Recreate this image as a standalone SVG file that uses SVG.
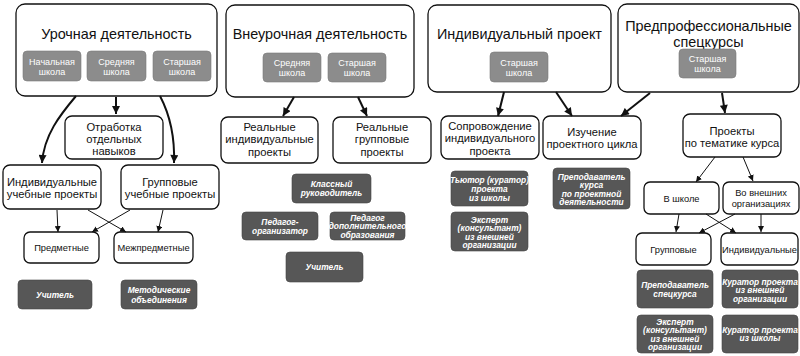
<svg xmlns="http://www.w3.org/2000/svg" width="800" height="356" viewBox="0 0 800 356">
<defs>
<style>
text{font-family:"Liberation Sans",Arial,sans-serif;text-anchor:middle;dominant-baseline:central;fill:#111}
.main{fill:#fff;stroke:#111;stroke-width:1.3}
.sub{fill:#8c8c8c;stroke:#7a7a7a;stroke-width:0.6}
.dark{fill:#575757;stroke:#444;stroke-width:0.6}
.t{font-size:14.4px}
.m{font-size:11.2px}
.s{font-size:9.3px}
.st{font-size:9px;fill:#fff}
.dt{font-size:8.4px;fill:#fff;font-weight:bold;font-style:italic}
.big{fill:none;stroke:#111;stroke-width:2}
.sm{fill:none;stroke:#111;stroke-width:1}
</style>
<marker id="ab" viewBox="0 0 10 10" refX="10" refY="5" markerWidth="9" markerHeight="8" markerUnits="userSpaceOnUse" orient="auto"><path d="M0,0L10,5L0,10z" fill="#111"/></marker>
<marker id="as" viewBox="0 0 10 10" refX="10" refY="5" markerWidth="6" markerHeight="6" markerUnits="userSpaceOnUse" orient="auto"><path d="M0,0L10,5L0,10z" fill="#111"/></marker>
</defs>

<g id="urochnaya">
<rect class="main" x="16" y="4" width="201" height="92" rx="9"/>
<text class="t" x="116.5" y="34">Урочная деятельность</text>
<rect class="sub" x="23" y="51" width="58" height="30" rx="4"/>
<text class="st" x="52" y="61.5">Начальная</text><text class="st" x="52" y="72">школа</text>
<rect class="sub" x="87" y="51" width="59" height="30" rx="4"/>
<text class="st" x="116.5" y="61.5">Средняя</text><text class="st" x="116.5" y="72">школа</text>
<rect class="sub" x="153" y="51" width="58" height="30" rx="4"/>
<text class="st" x="182" y="61.5">Старшая</text><text class="st" x="182" y="72">школа</text>
</g>

<g id="vneurochnaya">
<rect class="main" x="226" y="5" width="188" height="92" rx="9"/>
<text class="t" x="320" y="34">Внеурочная деятельность</text>
<rect class="sub" x="263" y="53" width="58" height="29" rx="4"/>
<text class="st" x="292" y="63">Средняя</text><text class="st" x="292" y="73">школа</text>
<rect class="sub" x="328" y="53" width="58" height="29" rx="4"/>
<text class="st" x="357" y="63">Старшая</text><text class="st" x="357" y="73">школа</text>
</g>

<g id="individ">
<rect class="main" x="428" y="5" width="183" height="87" rx="9"/>
<text class="t" x="519.5" y="34">Индивидуальный проект</text>
<rect class="sub" x="490" y="52" width="58" height="30" rx="4"/>
<text class="st" x="519" y="63">Старшая</text><text class="st" x="519" y="73">школа</text>
</g>

<g id="predprof">
<rect class="main" x="618" y="4" width="181" height="88" rx="9"/>
<text class="t" x="708.5" y="26">Предпрофессиональные</text>
<text class="t" x="708.5" y="42">спецкурсы</text>
<rect class="sub" x="679" y="49" width="57" height="29" rx="4"/>
<text class="st" x="707.5" y="59">Старшая</text><text class="st" x="707.5" y="69">школа</text>
</g>

<g id="otrabotka">
<rect class="main" x="65" y="116" width="98" height="43" rx="7"/>
<text class="m" x="114" y="126.5">Отработка</text><text class="m" x="114" y="138.5">отдельных</text><text class="m" x="114" y="150.5">навыков</text>
</g>
<g id="ind-uch">
<rect class="main" x="3" y="165" width="98" height="44" rx="7"/>
<text class="m" x="52" y="181.5">Индивидуальные</text><text class="m" x="52" y="194">учебные проекты</text>
</g>
<g id="gr-uch">
<rect class="main" x="121" y="165" width="98" height="44" rx="7"/>
<text class="m" x="170" y="181.5">Групповые</text><text class="m" x="170" y="194">учебные проекты</text>
</g>
<g id="predmetnye">
<rect class="main" x="24" y="232" width="75" height="31" rx="6"/>
<text class="s" x="61.5" y="247.5">Предметные</text>
</g>
<g id="mezhpredmetnye">
<rect class="main" x="114" y="232" width="79" height="31" rx="6"/>
<text class="s" x="153.5" y="247.5">Межпредметные</text>
</g>
<g id="uchitel1">
<rect class="dark" x="18" y="280" width="74" height="29" rx="4"/>
<text class="dt" x="55" y="294.5">Учитель</text>
</g>
<g id="metod">
<rect class="dark" x="121" y="280" width="76" height="29" rx="4"/>
<text class="dt" x="159" y="290">Методические</text><text class="dt" x="159" y="299.5">объединения</text>
</g>

<g id="real-ind">
<rect class="main" x="221" y="117" width="97" height="46" rx="7"/>
<text class="m" x="269.5" y="127">Реальные</text><text class="m" x="269.5" y="139">индивидуальные</text><text class="m" x="269.5" y="151.5">проекты</text>
</g>
<g id="real-gr">
<rect class="main" x="333" y="117" width="98" height="46" rx="7"/>
<text class="m" x="382" y="127">Реальные</text><text class="m" x="382" y="139">групповые</text><text class="m" x="382" y="151.5">проекты</text>
</g>
<g id="klassny">
<rect class="dark" x="292" y="174" width="79" height="29" rx="4"/>
<text class="dt" x="331.5" y="183.5">Классный</text><text class="dt" x="331.5" y="193">руководитель</text>
</g>
<g id="ped-org">
<rect class="dark" x="242" y="212" width="76" height="28" rx="4"/>
<text class="dt" x="280" y="221.5">Педагог-</text><text class="dt" x="280" y="231">организатор</text>
</g>
<g id="ped-dop">
<rect class="dark" x="330" y="212" width="75" height="28" rx="4"/>
<text class="dt" x="367.5" y="217.5">Педагог</text><text class="dt" x="367.5" y="226">дополнительного</text><text class="dt" x="367.5" y="234.5">образования</text>
</g>
<g id="uchitel2">
<rect class="dark" x="286" y="252" width="77" height="30" rx="4"/>
<text class="dt" x="324.5" y="267">Учитель</text>
</g>

<g id="soprov">
<rect class="main" x="441" y="116" width="98" height="43" rx="7"/>
<text class="m" x="490" y="126">Сопровождение</text><text class="m" x="490" y="138">индивидуального</text><text class="m" x="490" y="150.5">проекта</text>
</g>
<g id="izuchenie">
<rect class="main" x="543" y="116" width="98" height="43" rx="7"/>
<text class="m" x="592" y="132">Изучение</text><text class="m" x="592" y="144">проектного цикла</text>
</g>
<g id="tyutor">
<rect class="dark" x="451" y="171" width="77" height="35" rx="4"/>
<text class="dt" x="489.5" y="180">Тьютор (куратор)</text><text class="dt" x="489.5" y="189">проекта</text><text class="dt" x="489.5" y="198">из школы</text>
</g>
<g id="ekspert1">
<rect class="dark" x="451" y="212" width="77" height="39" rx="4"/>
<text class="dt" x="489.5" y="219.5">Эксперт</text><text class="dt" x="489.5" y="228">(консультант)</text><text class="dt" x="489.5" y="236.5">из внешней</text><text class="dt" x="489.5" y="245">организации</text>
</g>
<g id="prepod-kursa">
<rect class="dark" x="553" y="168" width="77" height="41" rx="4"/>
<text class="dt" x="591.5" y="176.5">Преподаватель</text><text class="dt" x="591.5" y="185">курса</text><text class="dt" x="591.5" y="193.5">по проектной</text><text class="dt" x="591.5" y="202">деятельности</text>
</g>

<g id="proekty-temat">
<rect class="main" x="683" y="114" width="98" height="43" rx="7"/>
<text class="m" x="732" y="130.5">Проекты</text><text class="m" x="732" y="142.5">по тематике курса</text>
</g>
<g id="v-shkole">
<rect class="main" x="644" y="182" width="75" height="32" rx="6"/>
<text class="s" x="681.5" y="198.5">В школе</text>
</g>
<g id="vo-vneshnih">
<rect class="main" x="723" y="182" width="76" height="32" rx="6"/>
<text class="s" x="761" y="193">Во внешних</text><text class="s" x="761" y="203.5">организациях</text>
</g>
<g id="gruppovye">
<rect class="main" x="636" y="233" width="75" height="32" rx="6"/>
<text class="s" x="673.5" y="249.5">Групповые</text>
</g>
<g id="individualnye">
<rect class="main" x="721" y="233" width="77" height="32" rx="6"/>
<text class="s" x="759.5" y="249.5">Индивидуальные</text>
</g>
<g id="prepod-spec">
<rect class="dark" x="637" y="270" width="76" height="38" rx="4"/>
<text class="dt" x="675" y="285">Преподаватель</text><text class="dt" x="675" y="294">спецкурса</text>
</g>
<g id="kurator-vnesh">
<rect class="dark" x="722" y="270" width="76" height="38" rx="4"/>
<text class="dt" x="760" y="281.5">Куратор проекта</text><text class="dt" x="760" y="290">из внешней</text><text class="dt" x="760" y="298.5">организации</text>
</g>
<g id="ekspert2">
<rect class="dark" x="637" y="315" width="76" height="38" rx="4"/>
<text class="dt" x="675" y="321.5">Эксперт</text><text class="dt" x="675" y="330">(консультант)</text><text class="dt" x="675" y="338.5">из внешней</text><text class="dt" x="675" y="347">организации</text>
</g>
<g id="kurator-shk">
<rect class="dark" x="722" y="315" width="76" height="38" rx="4"/>
<text class="dt" x="760" y="329.5">Куратор проекта</text><text class="dt" x="760" y="338">из школы</text>
</g>

<g id="connectors">
<path class="big" d="M76,96 C60,115 44,135 42,163" marker-end="url(#ab)"/>
<path class="big" d="M116,97 L116,114" marker-end="url(#ab)"/>
<path class="big" d="M160,96 C170,115 175,135 174,163" marker-end="url(#ab)"/>
<path class="big" d="M294,97 L283,116" marker-end="url(#ab)"/>
<path class="big" d="M358,97 L367,116" marker-end="url(#ab)"/>
<path class="big" d="M504,92 L498,116" marker-end="url(#ab)"/>
<path class="big" d="M556,92 L572,116" marker-end="url(#ab)"/>
<path class="big" d="M650,93 L621,116" marker-end="url(#ab)"/>
<path class="big" d="M722,93 L725,113" marker-end="url(#ab)"/>
<path class="sm" d="M57,210 L58,232" marker-end="url(#as)"/>
<path class="sm" d="M88,210 L126,232" marker-end="url(#as)"/>
<path class="sm" d="M130,210 L92,232" marker-end="url(#as)"/>
<path class="sm" d="M163,210 L158,232" marker-end="url(#as)"/>
<path class="sm" d="M715,157 L696,182" marker-end="url(#as)"/>
<path class="sm" d="M743,157 L753,181" marker-end="url(#as)"/>
<path class="sm" d="M679,214 L676,232" marker-end="url(#as)"/>
<path class="sm" d="M706,214 L736,233" marker-end="url(#as)"/>
<path class="sm" d="M735,214 L699,233" marker-end="url(#as)"/>
<path class="sm" d="M761,214 L761,232" marker-end="url(#as)"/>
</g>
</svg>
